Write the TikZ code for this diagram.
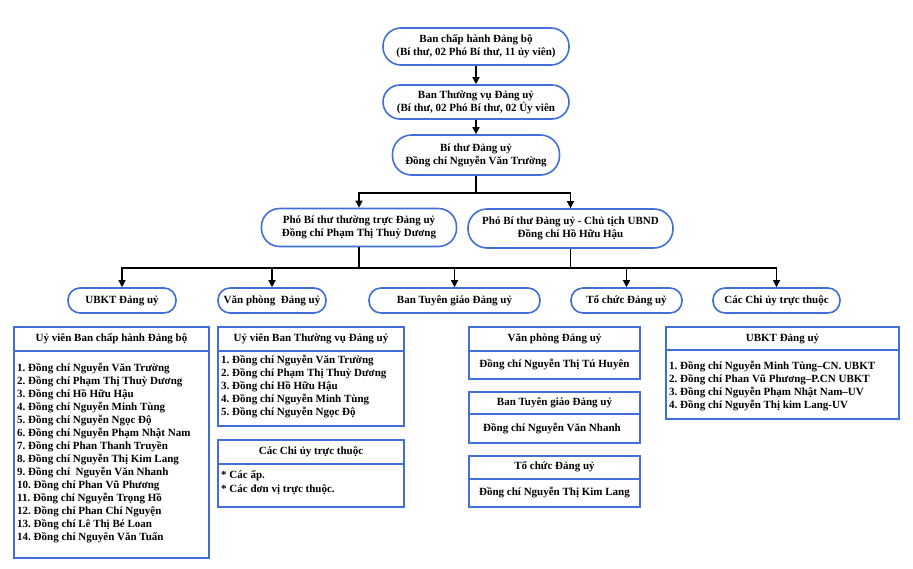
\documentclass[tikz,border=0pt]{standalone}
\usepackage{fontspec}
\setmainfont{Liberation Serif}
\usetikzlibrary{arrows.meta}
\definecolor{bblue}{RGB}{66,110,218}
\begin{document}
\frenchspacing
\begin{tikzpicture}[x=1pt,y=-1pt,
  font=\bfseries\fontsize{11}{13}\selectfont,
  rbox/.style={draw=bblue,line width=1.6pt,fill=white,align=center,inner sep=1pt},
  tbl/.style={draw=bblue,line width=1.6pt},
  arr/.style={-{Triangle[length=7pt,width=7pt]},line width=1.3pt},
  ln/.style={line width=1.3pt},
  lst/.style={anchor=north west,align=left,inner sep=0pt,font=\bfseries\fontsize{11}{13}\selectfont},
  hd/.style={anchor=center,inner sep=0pt}]
\useasboundingbox (0,0) rectangle (913,568);
% top chain
\node[rbox,minimum width=186pt,minimum height=37pt,rounded corners=18pt] (b1) at (476,46.5)
  {Ban chấp hành Đảng bộ\\(Bí thư, 02 Phó Bí thư, 11 ủy viên)};
\node[rbox,minimum width=186pt,minimum height=34pt,rounded corners=17pt] (b2) at (476,102)
  {Ban Thường vụ Đảng uỷ\\(Bí thư, 02 Phó Bí thư, 02 Ủy viên};
\node[rbox,minimum width=167pt,minimum height=40pt,rounded corners=19pt] (b3) at (476,155)
  {Bí thư Đảng uỷ\\Đồng chí Nguyễn Văn Trường};
\draw[arr] (b1.south) -- (b2.north);
\draw[arr] (b2.south) -- (b3.north);
% level 4
\node[rbox,minimum width=195pt,minimum height=38pt,rounded corners=18pt] (l4a) at (359,227.5)
  {Phó Bí thư thường trực Đảng uỷ\\Đồng chí Phạm Thị Thuỳ Dương};
\node[rbox,minimum width=205pt,minimum height=39pt,rounded corners=19pt] (l4b) at (570.5,228.5)
  {Phó Bí thư Đảng uỷ - Chủ tịch UBND\\Đồng chí Hồ Hữu Hậu};
\coordinate (j1) at (476,193);
\draw[ln] (b3.south) -- (j1);
\draw[arr] (j1) -| (l4a.north);
\draw[arr] (j1) -| (l4b.north);
% level 5
\node[rbox,minimum width=108pt,minimum height=25pt,rounded corners=12pt] (l5a) at (122,300.5) {UBKT Đảng uỷ};
\node[rbox,minimum width=108pt,minimum height=25pt,rounded corners=12pt] (l5b) at (272,300.5) {Văn phòng\ \ Đảng uỷ};
\node[rbox,minimum width=171pt,minimum height=25pt,rounded corners=12pt] (l5c) at (454.5,300.5) {Ban Tuyên giáo Đảng uỷ};
\node[rbox,minimum width=111pt,minimum height=25pt,rounded corners=12pt] (l5d) at (626.5,300.5) {Tổ chức Đảng uỷ};
\node[rbox,minimum width=127pt,minimum height=25pt,rounded corners=12pt] (l5e) at (776.5,300.5) {Các Chi ủy trực thuộc};
\coordinate (bus) at (0,268);
\coordinate (busL) at (l5a.north |- bus);
\coordinate (busR) at (l5e.north |- bus);
\draw[ln] (l4a.south) -- (l4a.south |- bus);
\draw[ln] (l4b.south) -- (l4b.south |- bus);
\draw[ln] ([xshift=-0.65pt]busL) -- ([xshift=0.65pt]busR);
\foreach \n in {l5a,l5b,l5c,l5d,l5e}{
  \draw[arr] (\n.north |- bus) -- (\n.north);
}
% table 1
\draw[tbl] (14,327) rectangle (209,558);
\draw[tbl] (14,351) -- (209,351);
\node[hd] (t1h) at (111.5,339) {Uỷ viên Ban chấp hành Đảng bộ};
\node[lst] (t1b) at (17,363) {1. Đồng chí Nguyễn Văn Trường\\2. Đồng chí Phạm Thị Thuỳ Dương\\3. Đồng chí Hồ Hữu Hậu\\4. Đồng chí Nguyễn Minh Tùng\\5. Đồng chí Nguyễn Ngọc Độ\\6. Đồng chí Nguyễn Phạm Nhật Nam\\7. Đồng chí Phan Thanh Truyền\\8. Đồng chí Nguyễn Thị Kim Lang\\9. Đồng chí\ \ Nguyễn Văn Nhanh\\10. Đồng chí Phan Vũ Phương\\11. Đồng chí Nguyễn Trọng Hồ\\12. Đồng chí Phan Chí Nguyện\\13. Đồng chí Lê Thị Bé Loan\\14. Đồng chí Nguyên Văn Tuấn};
% table 2
\draw[tbl] (218,327) rectangle (404,426);
\draw[tbl] (218,351) -- (404,351);
\node[hd] (t2h) at (311,339) {Uỷ viên Ban Thường vụ Đảng uỷ};
\node[lst] (t2b) at (221,355) {1. Đồng chí Nguyễn Văn Trường\\2. Đồng chí Phạm Thị Thuỳ Dương\\3. Đồng chí Hồ Hữu Hậu\\4. Đồng chí Nguyễn Minh Tùng\\5. Đồng chí Nguyễn Ngọc Độ};
% table 3
\draw[tbl] (218,440) rectangle (404,507);
\draw[tbl] (218,464) -- (404,464);
\node[hd] (t3h) at (311,452) {Các Chi ủy trực thuộc};
\node[lst,font=\bfseries\fontsize{11}{14.5}\selectfont] (t3b) at (221,470) {* Các ấp.\\* Các đơn vị trực thuộc.};
% table 4
\draw[tbl] (469,327) rectangle (640,379);
\draw[tbl] (469,351) -- (640,351);
\node[hd] (t4h) at (554.5,339) {Văn phòng Đảng uỷ};
\node[hd] (t4b) at (554.5,365) {Đồng chí Nguyễn Thị Tú Huyên};
% table 5
\draw[tbl] (469,392) rectangle (640,443);
\draw[tbl] (469,414) -- (640,414);
\node[hd] (t5h) at (554.5,403) {Ban Tuyên giáo Đảng uỷ};
\node[hd] (t5b) at (552,428.5) {Đồng chí Nguyễn Văn Nhanh};
% table 6
\draw[tbl] (469,456) rectangle (640,507);
\draw[tbl] (469,479) -- (640,479);
\node[hd] (t6h) at (554.5,467) {Tổ chức Đảng uỷ};
\node[hd] (t6b) at (554.5,493) {Đồng chí Nguyễn Thị Kim Lang};
% table 7
\draw[tbl] (666,327) rectangle (899,419);
\draw[tbl] (666,350) -- (899,350);
\node[hd] (t7h) at (782.5,338.5) {UBKT Đảng uỷ};
\node[lst] (t7b) at (669,361) {1. Đồng chí Nguyễn Minh Tùng--CN. UBKT\\2. Đồng chí Phan Vũ Phương--P.CN UBKT\\3. Đồng chí Nguyễn Phạm Nhật Nam--UV\\4. Đồng chí Nguyễn Thị kim Lang-UV};
\end{tikzpicture}
\end{document}
